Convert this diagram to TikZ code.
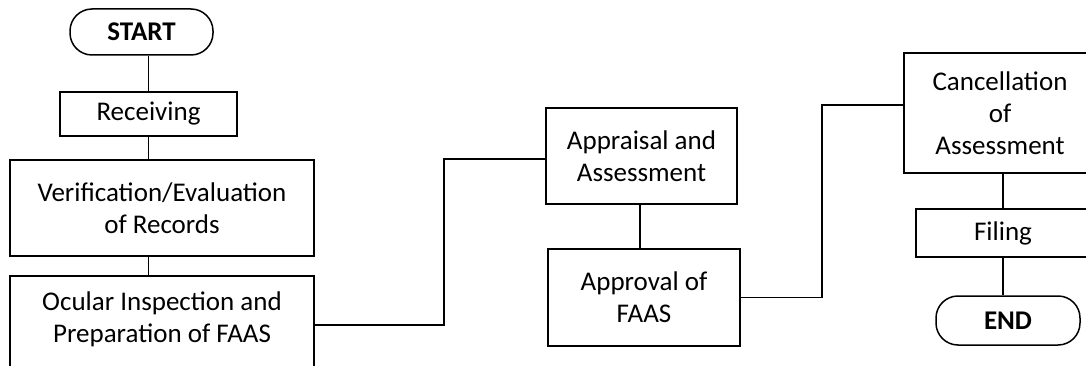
\documentclass[tikz,border=0pt]{standalone}
\usepackage{fontspec}
\setmainfont{Carlito}
\usetikzlibrary{calc}
\begin{document}
\begin{tikzpicture}[x=1pt,y=-1pt,
  every node/.style={font=\fontsize{27}{32}\selectfont, align=center, inner sep=0pt},
  stepbox/.style={draw, line width=1.5pt, rectangle},
  terminal/.style={draw, line width=1.5pt, rectangle, rounded corners=22pt, font=\fontsize{27}{32}\selectfont\bfseries},
  link/.style={line width=1.5pt}]
\useasboundingbox (0,0) rectangle (1086,366);
\clip (0,0) rectangle (1086,366);
% left column
\node[terminal, minimum width=143pt, minimum height=46pt] (start) at (141.5,32) {START};
\node[stepbox, minimum width=177pt, minimum height=44pt] (recv) at (148.5,114) {Receiving};
\node[stepbox, minimum width=304pt, minimum height=96pt] (verif) at (162,208) {Verification/Evaluation\\of Records};
\node[stepbox, minimum width=304pt, minimum height=150pt, anchor=north,
  label={[anchor=north, yshift=-17pt]north:Ocular Inspection and\\Preparation of FAAS}] (ocular) at (162,275) {};
% middle column
\node[stepbox, minimum width=191pt, minimum height=96pt] (appr) at (641.5,156) {Appraisal and\\Assessment};
\node[stepbox, minimum width=192pt, minimum height=97pt] (apprv) at (644,297.5) {Approval of\\FAAS};
% right column
\node[stepbox, minimum width=192pt, minimum height=120pt] (cancel) at (1000,113) {Cancellation\\of\\Assessment};
\node[stepbox, minimum width=174pt, minimum height=48pt] (filing) at (1003,233) {Filing};
\node[terminal, minimum width=144pt, minimum height=49pt] (finish) at (1008,320.5) {END};
% connectors
\draw[link] (recv.north) -- (recv.north |- start.south);
\draw[link] (recv.south) -- (recv.south |- verif.north);
\draw[link] (recv.south |- verif.south) -- (recv.south |- ocular.north);
\draw[link] ([yshift=-50pt]ocular.north east) -- ++(129,0) |- ([yshift=-3pt]appr.west);
\draw[link] ([xshift=-1.5pt]appr.south) -- ([xshift=-1.5pt]appr.south |- apprv.north);
\draw[link] (apprv.east) -- ++(81,0) |- ([yshift=8pt]cancel.west);
\draw[link] (filing.north) -- (filing.north |- cancel.south);
\draw[link] (filing.south) -- (filing.south |- finish.north);
\end{tikzpicture}
\end{document}
